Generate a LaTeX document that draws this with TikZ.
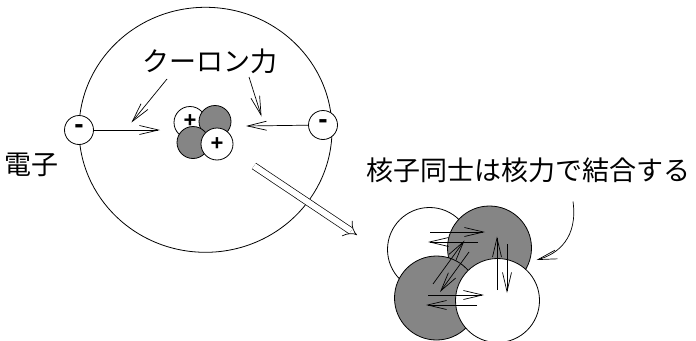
\documentclass[tikz,border=0pt]{standalone}
\usepackage{fontspec}
\usepackage{tikz}
\usetikzlibrary{arrows.meta}
\newfontfamily\jpfont{Noto Sans CJK JP}
\newfontfamily\signfont{Liberation Sans}
\definecolor{ink}{HTML}{000000}
\definecolor{neutron}{HTML}{858585}
\tikzset{
  orbit/.style={draw=ink, line width=0.8pt},
  elec/.style={circle, draw=ink, fill=white, line width=0.8pt, minimum size=29pt, inner sep=0pt,
    font=\signfont\bfseries\fontsize{28}{28}\selectfont},
  nucs/.style={circle, draw=ink, line width=0.8pt, minimum size=32pt, inner sep=0pt,
    font=\signfont\bfseries\fontsize{22}{22}\selectfont},
  nucb/.style={circle, draw=ink, line width=0.8pt, minimum size=84pt, inner sep=0pt},
  force/.style={draw=ink, line width=0.7pt, -{Straight Barb[length=19pt,width=9pt]}},
  lab/.style={font=\jpfont\fontsize{27}{27}\selectfont, inner sep=0pt},
}

\begin{document}
\begin{tikzpicture}[x=1pt, y=-1pt]
  \useasboundingbox (0,0) rectangle (696,340);

  % atom with its electron cloud
  \draw[orbit] (205.5,129.8) ellipse [x radius=126.5, y radius=122.5];
  \node[elec] (eL) at (79,130) {\raisebox{1pt}{-}};
  \node[elec] (eR) at (323,125) {\raisebox{1pt}{-}};

  % small nucleus
  \node[nucs, fill=white]   (pA) at (190,122.5) {\raisebox{2pt}{+}};
  \node[nucs, fill=neutron] (nA) at (215,121.5) {};
  \node[nucs, fill=neutron] (nB) at (193,142.5) {};
  \node[nucs, fill=white]   (pB) at (217,144) {\raisebox{-1pt}{+}};

  % coulomb force
  \coordinate (fL) at (160,130);
  \coordinate (fR) at (246,126);
  \draw[force] (eL) -- (fL);
  \draw[force] (eR) -- (fR);

  \node[lab] (coul) at (210,61) {クーロン力};
  \coordinate (cL0) at (167,79);
  \coordinate (cL1) at (131.5,122.5);
  \coordinate (cR0) at (249,77);
  \coordinate (cR1) at (261.5,116.5);
  \draw[force] (cL0) -- (cL1);
  \draw[force] (cR0) -- (cR1);

  \node[lab] (elab) at (31.5,165) {電子};

  % zoom into the nucleus
  \coordinate (z0) at (254,166);
  \coordinate (z1) at (357,235);
  \draw[ink, line width=0.7pt, double, double distance=6pt, -{Implies}] (z0) -- (z1);

  % large nucleus
  \node[nucb, fill=white]   (PA) at (429.5,249.5) {};
  \node[nucb, fill=neutron] (NA) at (489.5,248) {};
  \node[nucb, fill=neutron] (NB) at (436.5,298) {};
  \node[nucb, fill=white]   (PB) at (497.5,300.5) {};

  % nuclear force between neighbours
  \draw[force] (430,232) -- (485,232);
  \draw[force] (478,242) -- (428,242);
  \draw[force] (433,284) -- (464.5,240.5);
  \draw[force] (469,252) -- (440,292);
  \draw[force] (497,290) -- (497,236.5);
  \draw[force] (507,244) -- (507,293);
  \draw[force] (428,295) -- (484,295);
  \draw[force] (477,305) -- (426,305);

  \node[lab] (nlab) at (528,170) {核子同士は核力で結合する};
  \coordinate (b0) at (573,201.5);
  \coordinate (b1) at (536.5,260);
  \draw[force] (b0) .. controls (578,238) and (558,254) .. (b1);
\end{tikzpicture}
\end{document}
